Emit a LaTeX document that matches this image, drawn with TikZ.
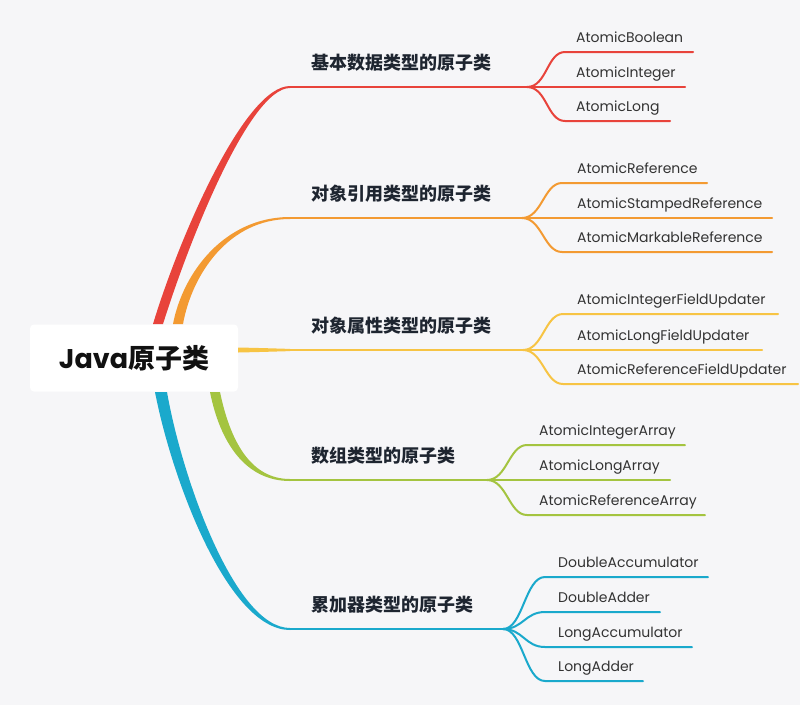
\documentclass[tikz,border=0pt]{standalone}
\usepackage{fontspec}
\setmainfont{Poppins}
\newfontfamily\cjk{Noto Sans CJK SC}
\definecolor{cred}{HTML}{E8433B}
\definecolor{corange}{HTML}{F39A32}
\definecolor{cyellow}{HTML}{F7C444}
\definecolor{cgreen}{HTML}{A4C440}
\definecolor{cblue}{HTML}{1AA9CC}
\definecolor{bgc}{HTML}{F6F6F8}
\definecolor{cattext}{HTML}{1E2530}
\definecolor{leaftext}{HTML}{333333}
\definecolor{roottext}{HTML}{111111}
\begin{document}
\begin{tikzpicture}[x=1pt,y=-1pt,
  cat/.style={anchor=base west, inner sep=0pt, font=\cjk\bfseries\fontsize{18}{20}\selectfont, text=cattext},
  leaf/.style={anchor=base west, inner sep=0pt, font=\fontsize{14}{16}\selectfont, text=leaftext},
  twig/.style={line width=2pt, line cap=round},
  trunk/.style={line width=2.2pt},
]
\fill[bgc] (0,0) rectangle (800,705);
\useasboundingbox (0,0) rectangle (800,705);

% root
\node[fill=white, rounded corners=4pt, minimum width=208pt, minimum height=67pt, inner sep=0pt,
      text=roottext, font=\bfseries\fontsize{27}{30}\selectfont] (root) at (134,358) {Java{\cjk\bfseries 原子类}};

% category labels
\node[cat] (c1) at (311,69.5) {基本数据类型的原子类};
\node[cat] (c2) at (311,200.5) {对象引用类型的原子类};
\node[cat] (c3) at (311,332.5) {对象属性类型的原子类};
\node[cat] (c4) at (311,462.5) {数组类型的原子类};
\node[cat] (c5) at (311,611.5) {累加器类型的原子类};

% main branches (tapered)
\fill[cred] (153,324) .. controls (180,235) and (245,86) .. (290,86) -- (290,88) .. controls (250,88) and (190,238) .. (163,324) -- cycle;
\draw[cred,trunk] (289,87) -- (527,87) coordinate (f1);

\fill[corange] (173,324) .. controls (183,272) and (225,217) .. (290,217) -- (290,219) .. controls (229,219) and (192,274) .. (183,324) -- cycle;
\draw[corange,trunk] (289,218) -- (522,218) coordinate (f2);

\fill[cyellow] (238,347.5) .. controls (260,348) .. (290,348.9) -- (290,351.1) .. controls (260,352) .. (238,352.5) -- cycle;
\draw[cyellow,trunk] (289,350) -- (523,350) coordinate (f3);

\fill[cgreen] (220,392) .. controls (230,440) and (250,479) .. (290,479) -- (290,481) .. controls (245,481) and (220,442) .. (210,392) -- cycle;
\draw[cgreen,trunk] (289,480) -- (487,480) coordinate (f4);

\fill[cblue] (167,392) .. controls (182,478) and (235,628) .. (290,628) -- (290,630) .. controls (228,630) and (172,480) .. (155,392) -- cycle;
\draw[cblue,trunk] (289,629) -- (503,629) coordinate (f5);

% leaves: red
\foreach \y/\xe/\t/\n in {52/693/AtomicBoolean/l11, 87/685/AtomicInteger/l12, 121/670/AtomicLong/l13}{
  \draw[twig,cred] (f1) .. controls +(20,0) and +(-18,0) .. (565,\y) -- (\xe,\y);
  \node[leaf] (\n) at (576,\y-9.5) {\t};
}
% orange
\foreach \y/\xe/\t/\n in {183/707/AtomicReference/l21, 218/772/AtomicStampedReference/l22, 252/772/AtomicMarkableReference/l23}{
  \draw[twig,corange] (f2) .. controls +(20,0) and +(-18,0) .. (562,\y) -- (\xe,\y);
  \node[leaf] (\n) at (577,\y-9.5) {\t};
}
% yellow
\foreach \y/\xe/\t/\n in {314/778/AtomicIntegerFieldUpdater/l31, 350/762/AtomicLongFieldUpdater/l32, 384/798/AtomicReferenceFieldUpdater/l33}{
  \draw[twig,cyellow] (f3) .. controls +(20,0) and +(-18,0) .. (563,\y) -- (\xe,\y);
  \node[leaf] (\n) at (577,\y-9.5) {\t};
}
% green
\foreach \y/\xe/\t/\n in {445/685/AtomicIntegerArray/l41, 480/670/AtomicLongArray/l42, 515/705/AtomicReferenceArray/l43}{
  \draw[twig,cgreen] (f4) .. controls +(20,0) and +(-18,0) .. (527,\y) -- (\xe,\y);
  \node[leaf] (\n) at (539,\y-9.5) {\t};
}
% blue
\foreach \y/\xe/\t/\n in {577/708/DoubleAccumulator/l51, 612/660/DoubleAdder/l52, 647/692/LongAccumulator/l53, 681/643/LongAdder/l54}{
  \draw[twig,cblue] (f5) .. controls +(20,0) and +(-20,0) .. (545,\y) -- (\xe,\y);
  \node[leaf] (\n) at (558,\y-9.5) {\t};
}
\end{tikzpicture}
\end{document}
